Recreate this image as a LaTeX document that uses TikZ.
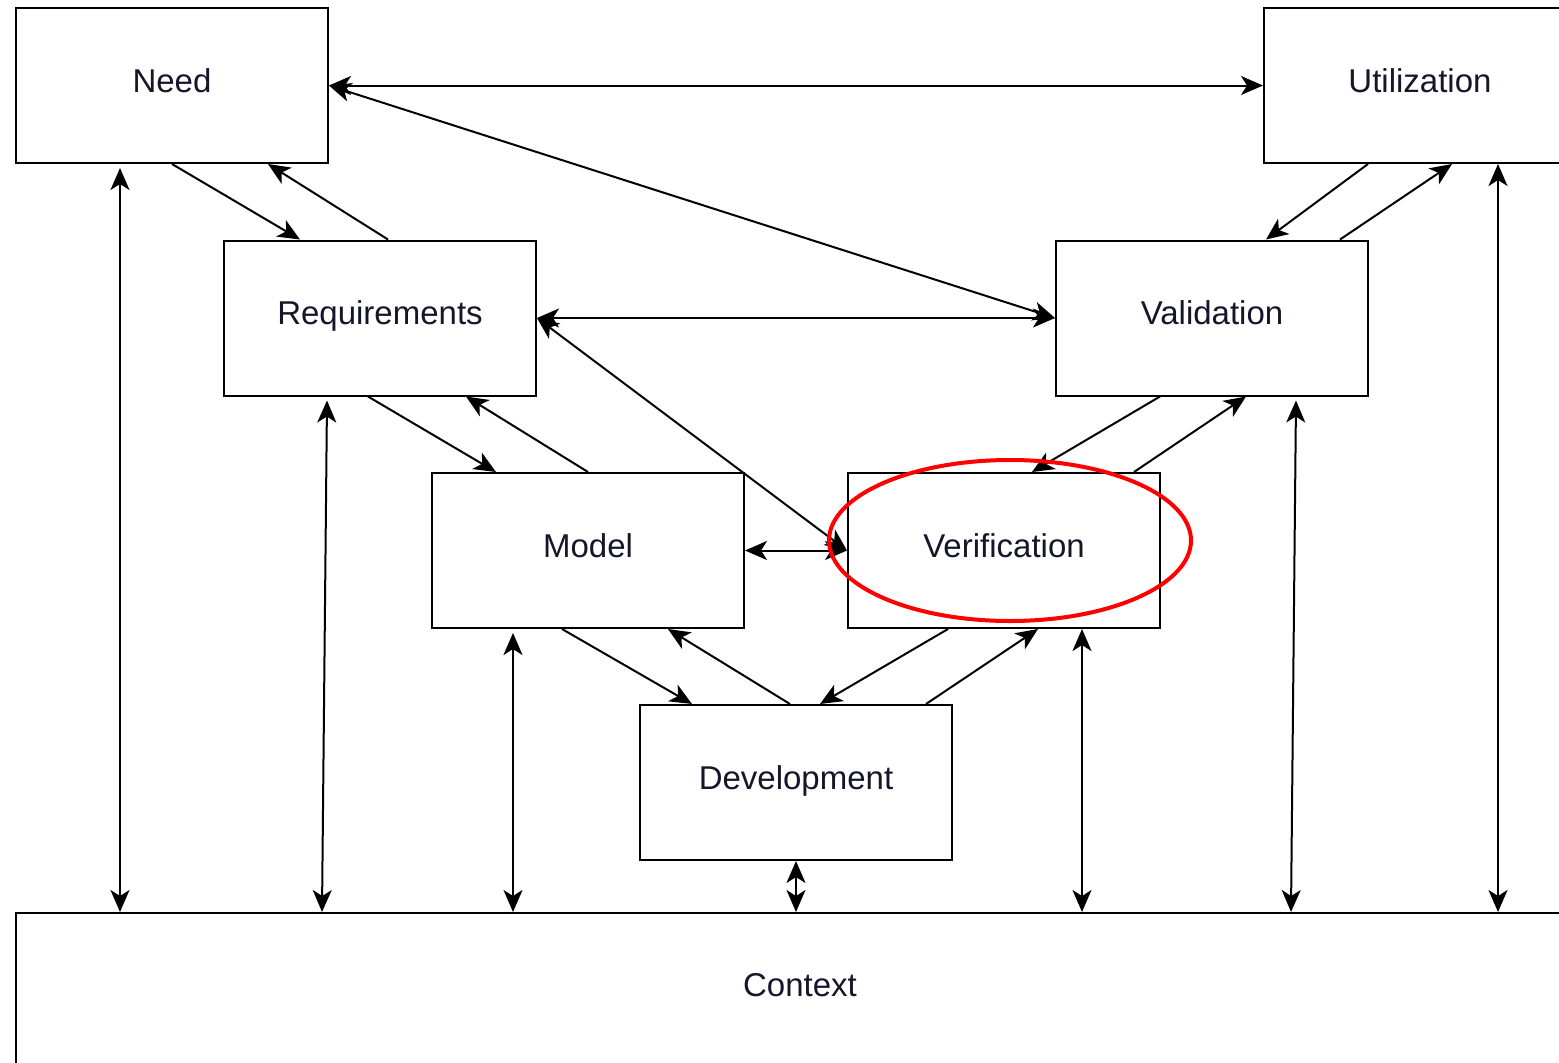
\documentclass[tikz,border=0pt]{standalone}
\usepackage{fontspec}
\setmainfont{Liberation Sans}
\usetikzlibrary{arrows.meta}
\definecolor{ink}{HTML}{16162A}
\begin{document}
\begin{tikzpicture}[x=1pt,y=-1pt,
  label font/.style={font=\fontsize{33}{40}\selectfont, text=ink, text height=24pt, text depth=11pt},
  box/.style={draw=black, line width=2pt, minimum width=312pt, minimum height=155pt,
    inner sep=0pt, label font},
  tip/.tip={Stealth[length=22pt,width=19pt,inset=6pt]},
  link/.style={line width=2pt, -tip},
  both/.style={line width=2pt, tip-tip}]
\useasboundingbox (0,0) rectangle (1559,1063);
\clip (0,0) rectangle (1559,1063);
\fill[white] (0,0) rectangle (1559,1063);

% process boxes
\node[box] (need)  at (172,85.5)  {Need};
\node[box] (util)  at (1420,85.5) {Utilization};
\node[box] (req)   at (380,318)   {Requirements};
\node[box] (val)   at (1212,318)  {Validation};
\node[box] (model) at (588,550.5) {Model};
\node[box] (ver)   at (1004,550.5){Verification};
\node[box] (dev)   at (796,782.5) {Development};
\node[box, minimum width=1568pt, minimum height=220pt, anchor=north] (ctx) at (800,912) {};
\node[label font] (ctxlabel) at ([yshift=-78pt]ctx.north) {Context};

% top level links
\draw[both] (need.east) -- (util.west);
\draw[both] (need.east) -- (val.west);
\draw[both] (req.east) -- (val.west);
\draw[both] (req.east) -- (ver.west);
\draw[both] (model.east) -- (ver.west);

% left branch, downward and upward
\draw[link] (need.south) -- ([xshift=-80pt]req.north);
\draw[link] ([xshift=8pt]req.north) -- ([xshift=96pt]need.south);
\draw[link] ([xshift=-12pt]req.south) -- ([xshift=-92pt]model.north);
\draw[link] (model.north) -- ([xshift=86pt]req.south);
\draw[link] ([xshift=-26pt]model.south) -- ([xshift=-104pt]dev.north);
\draw[link] ([xshift=-6pt]dev.north) -- ([xshift=80pt]model.south);

% right branch
\draw[link] ([xshift=-52pt]util.south) -- ([xshift=54pt]val.north);
\draw[link] ([xshift=128pt]val.north) -- ([xshift=32pt]util.south);
\draw[link] ([xshift=-52pt]val.south) -- ([xshift=28pt]ver.north);
\draw[link] ([xshift=130pt]ver.north) -- ([xshift=34pt]val.south);
\draw[link] ([xshift=-56pt]ver.south) -- ([xshift=24pt]dev.north);
\draw[link] ([xshift=130pt]dev.north) -- ([xshift=34pt]ver.south);

% links to the context
\draw[both] ([xshift=-52pt,yshift=-4pt]need.south) -- ([xshift=-680pt]ctx.north);
\draw[both] ([xshift=-53pt,yshift=-4pt]req.south) -- ([xshift=-478pt]ctx.north);
\draw[both] ([xshift=-75pt,yshift=-4pt]model.south) -- ([xshift=-287pt]ctx.north);
\draw[both] (dev.south) -- ([xshift=-4pt]ctx.north);
\draw[both] ([xshift=78pt]ver.south) -- ([xshift=282pt]ctx.north);
\draw[both] ([xshift=84pt,yshift=-4pt]val.south) -- ([xshift=491pt]ctx.north);
\draw[both] ([xshift=78pt]util.south) -- ([xshift=698pt]ctx.north);

% highlight
\draw[red, line width=4pt] (1010,540.5) ellipse [x radius=181, y radius=80.5];
\end{tikzpicture}
\end{document}
